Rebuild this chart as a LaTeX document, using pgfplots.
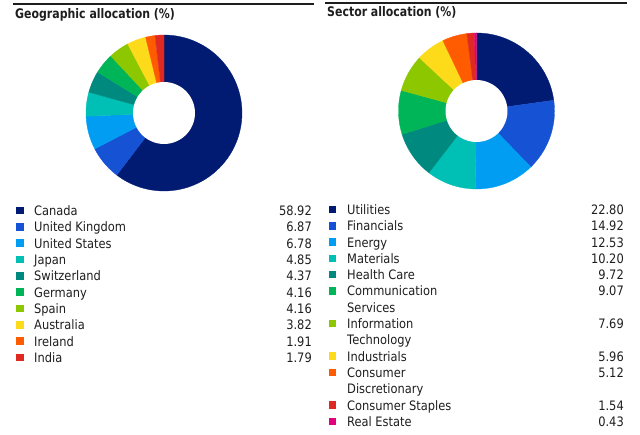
\documentclass[border=0pt]{standalone}
\usepackage{pgfplots}
\pgfplotsset{compat=1.18}
\usepackage{pgfplotstable}
\usepackage{fontspec}
\setmainfont{DejaVu Sans}[FakeStretch=0.88, BoldFeatures={FakeStretch=0.83}]

\definecolor{pal0}{HTML}{001B71}
\definecolor{pal1}{HTML}{1652D4}
\definecolor{pal2}{HTML}{009DF2}
\definecolor{pal3}{HTML}{00BFB4}
\definecolor{pal4}{HTML}{008A7F}
\definecolor{pal5}{HTML}{00B557}
\definecolor{pal6}{HTML}{8DC700}
\definecolor{pal7}{HTML}{FEDB1A}
\definecolor{pal8}{HTML}{FF5B00}
\definecolor{pal9}{HTML}{DF2A22}
\definecolor{pal10}{HTML}{E2007A}
\definecolor{txt}{HTML}{1E1E1E}

\pgfplotstableread{
name value
Canada 58.92
{United Kingdom} 6.87
{United States} 6.78
Japan 4.85
Switzerland 4.37
Germany 4.16
Spain 4.16
Australia 3.82
Ireland 1.91
India 1.79
}\geotable

\pgfplotstableread{
name name2 line value
Utilities none 0 22.80
Financials none 1 14.92
Energy none 2 12.53
Materials none 3 10.20
{Health Care} none 4 9.72
Communication Services 5 9.07
Information Technology 7 7.69
Industrials none 9 5.96
Consumer Discretionary 10 5.12
{Consumer Staples} none 12 1.54
{Real Estate} none 13 0.43
}\sectable

% cumulative angles (clockwise from top), normalised to the total
\newcommand\computeangles[3]{% #1 table, #2 prefix, #3 last row index
  \gdef\tot{0}%
  \foreach \i in {0,...,#3}{%
    \pgfplotstablegetelem{\i}{value}\of#1%
    \pgfmathsetmacro\tmpT{\tot+\pgfplotsretval}%
    \xdef\tot{\tmpT}%
  }%
  \gdef\cum{0}%
  \foreach \i in {0,...,#3}{%
    \pgfplotstablegetelem{\i}{value}\of#1%
    \pgfmathsetmacro\tmpS{90-\cum/\tot*360}%
    \pgfmathsetmacro\tmpC{\cum+\pgfplotsretval}%
    \xdef\cum{\tmpC}%
    \pgfmathsetmacro\tmpE{90-\cum/\tot*360}%
    \expandafter\xdef\csname #2S\i\endcsname{\tmpS}%
    \expandafter\xdef\csname #2E\i\endcsname{\tmpE}%
  }%
}
\def\nonestr{none}

\begin{document}
\begin{tikzpicture}
\computeangles{\geotable}{geo}{9}
\computeangles{\sectable}{sec}{10}
\useasboundingbox (0,0) rectangle (640bp,435bp);

% left donut
\begin{axis}[at={(164bp,322bp)}, anchor=center, width=156bp, height=156bp,
  scale only axis, xmin=-1, xmax=1, ymin=-1, ymax=1, hide axis, clip=false]
\pgfplotsinvokeforeach{0,...,9}{
  \edef\temp{\noexpand\addplot[fill=pal#1, draw=pal#1, line width=0.3pt,
    domain=\csname geoE#1\endcsname:\csname geoS#1\endcsname, samples=80, variable=\noexpand\t]
    ({cos(\noexpand\t)},{sin(\noexpand\t)}) -- (axis cs:0,0) -- cycle;}
  \temp
}
\addplot[fill=white, draw=none, domain=0:360, samples=120, variable=\t]
  ({0.397*cos(\t)},{0.397*sin(\t)}) -- cycle;
\end{axis}

% right donut
\begin{axis}[at={(476.5bp,324bp)}, anchor=center, width=156bp, height=156bp,
  scale only axis, xmin=-1, xmax=1, ymin=-1, ymax=1, hide axis, clip=false]
\pgfplotsinvokeforeach{0,...,10}{
  \edef\temp{\noexpand\addplot[fill=pal#1, draw=pal#1, line width=0.3pt,
    domain=\csname secE#1\endcsname:\csname secS#1\endcsname, samples=80, variable=\noexpand\t]
    ({cos(\noexpand\t)},{sin(\noexpand\t)}) -- (axis cs:0,0) -- cycle;}
  \temp
}
\addplot[fill=white, draw=none, domain=0:360, samples=120, variable=\t]
  ({0.397*cos(\t)},{0.397*sin(\t)}) -- cycle;
\end{axis}

\begin{scope}[x=1bp, y=1bp, every node/.style={inner sep=0pt, text=txt,
    font=\fontsize{13bp}{16.3bp}\selectfont}]
% rules and titles
\draw[line width=1.6bp, color=txt] (13,431) -- (314,431);
\draw[line width=1.6bp, color=txt] (325,432) -- (627,432);
\node[anchor=base west, font=\bfseries\fontsize{13.2bp}{16bp}\selectfont] at (15,416.5) {Geographic allocation (\%)};
\node[anchor=base west, font=\bfseries\fontsize{13.2bp}{16bp}\selectfont] at (327,418) {Sector allocation (\%)};

% left legend
\foreach \i in {0,...,9}{
  \pgfplotstablegetelem{\i}{name}\of\geotable \let\nm\pgfplotsretval
  \pgfplotstablegetelem{\i}{value}\of\geotable \let\vl\pgfplotsretval
  \pgfmathsetmacro\yc{435-(210.5+16.33*\i)}
  \fill[pal\i] (16,\yc-3.75) rectangle ++(7.5,7.5);
  \node[anchor=base west] at (34,\yc-4.9) {\nm};
  \node[anchor=base east] at (312,\yc-4.9) {\vl};
}

% right legend
\foreach \i in {0,...,10}{
  \pgfplotstablegetelem{\i}{name}\of\sectable \let\nm\pgfplotsretval
  \pgfplotstablegetelem{\i}{name2}\of\sectable \let\nmb\pgfplotsretval
  \pgfplotstablegetelem{\i}{line}\of\sectable \let\ln\pgfplotsretval
  \pgfplotstablegetelem{\i}{value}\of\sectable \let\vl\pgfplotsretval
  \pgfmathsetmacro\yc{435-(209.5+16.3*\ln)}
  \fill[pal\i] (328.5,\yc-3.75) rectangle ++(7.5,7.5);
  \node[anchor=base west] at (347,\yc-4.9) {\nm};
  \ifx\nmb\nonestr\else
    \node[anchor=base west] at (347,\yc-4.9-16.3) {\nmb};
  \fi
  \node[anchor=base east] at (624,\yc-4.9) {\vl};
}
\end{scope}
\end{tikzpicture}
\end{document}
